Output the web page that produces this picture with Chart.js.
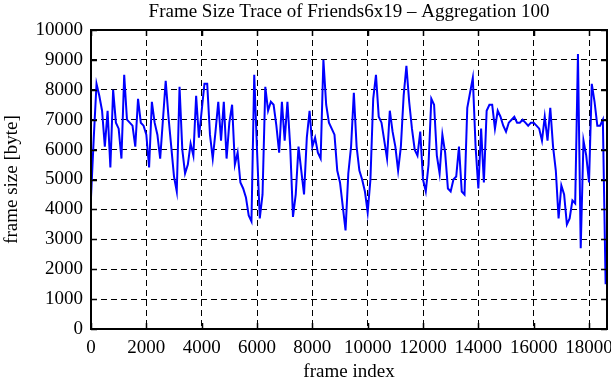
<!DOCTYPE html>
<html>
<head>
<meta charset="utf-8">
<script src="https://cdn.jsdelivr.net/npm/chart.js@4"></script>
<style>
html,body{margin:0;padding:0;background:#fff;}
canvas{display:block;}
</style>
</head>
<body>
<canvas id="c" width="611" height="380"></canvas>
<script>
const chartTitle = "Frame Size Trace of Friends6x19 \u2013 Aggregation 100";
const xAxisTitle = "frame index";
const yAxisTitle = "frame size [byte]";
const aggregationStep = 100;
const xTicks = [0,2000,4000,6000,8000,10000,12000,14000,16000,18000];
const yTicks = [0,1000,2000,3000,4000,5000,6000,7000,8000,9000,10000];
const xMax = 18650;
const yMax = 10000;
const frameSizes = [
4400,6400,8200,7800,7300,6100,7300,5400,8000,6900,
6700,5700,8500,7000,6900,6800,6100,7700,6900,6800,
6500,5400,7600,6900,6500,5700,7000,8300,7100,6100,
5100,4600,8100,6000,5200,5500,6200,5800,7800,6400,
7300,8200,8200,6500,5700,6600,7600,6300,7600,5700,
6900,7500,5500,5900,4900,4700,4400,3800,3600,8500,
6000,3700,4500,8100,7300,7600,7500,6800,5900,7600,
6300,7600,6100,3750,4500,6100,5300,4500,6400,7300,
6100,6400,5900,5700,9000,7500,6900,6700,6500,5300,
4900,4100,3300,5200,6100,7900,6100,5300,5000,4600,
3900,5000,7700,8500,7100,6900,6300,5700,7300,6600,
6100,5300,6100,7800,8800,7600,6700,6000,5800,6600,
5000,4600,5500,7700,7500,5800,5200,6500,5900,4700,
4600,5000,5100,6100,4600,4500,7400,7900,8400,6100,
4700,6700,4900,7300,7500,7500,6700,7300,7100,6800,
6600,6900,7000,7100,6900,6900,7000,6900,6800,6900,
6900,6800,6700,6300,7100,6300,7400,6100,5300,3700,
4800,4500,3500,3700,4300,4200,9200,2700,6300,5800,
4900,8200,7600,6800,6800,7000,1500
];

const points = frameSizes.map((v, i) => ({x: i * aggregationStep, y: v}));
const serif = "'Liberation Serif', 'Times New Roman', serif";

const frameBox = {
  id: 'frameBox',
  afterDraw(chart) {
    const {ctx, chartArea: a, scales} = chart;
    ctx.save();
    ctx.strokeStyle = '#000';
    ctx.lineWidth = 1.5;
    ctx.setLineDash([]);
    ctx.beginPath();
    const tl = 6;
    xTicks.forEach(v => {
      const px = Math.round(scales.x.getPixelForValue(v)) + 0.5;
      ctx.moveTo(px, a.bottom); ctx.lineTo(px, a.bottom - tl);
      ctx.moveTo(px, a.top); ctx.lineTo(px, a.top + tl);
    });
    yTicks.forEach(v => {
      const py = Math.round(scales.y.getPixelForValue(v)) + 0.5;
      ctx.moveTo(a.left, py); ctx.lineTo(a.left + tl, py);
      ctx.moveTo(a.right, py); ctx.lineTo(a.right - tl, py);
    });
    ctx.stroke();
    ctx.lineWidth = 2;
    ctx.strokeRect(a.left, a.top, a.right - a.left, a.bottom - a.top);
    // title centred over the plot area
    ctx.fillStyle = '#000';
    ctx.font = "19px " + serif;
    ctx.textAlign = 'center';
    ctx.textBaseline = 'middle';
    ctx.fillText(chartTitle, (a.left + a.right) / 2, 12.5);
    ctx.restore();
  }
};

new Chart(document.getElementById('c'), {
  type: 'line',
  data: {
    datasets: [{
      data: points,
      borderColor: '#0000ff',
      borderWidth: 2,
      pointRadius: 0,
      tension: 0,
      fill: false
    }]
  },
  options: {
    responsive: false,
    animation: false,
    layout: {padding: {left: 0, right: 4, top: 30, bottom: 0}},
    plugins: {
      legend: {display: false},
      tooltip: {enabled: false},
      title: {display: false}
    },
    scales: {
      x: {
        type: 'linear',
        min: 0,
        max: xMax,
        afterBuildTicks(s) { s.ticks = xTicks.map(v => ({value: v})); },
        afterFit(s) { s.height = 51; s.paddingLeft = 0; s.paddingRight = 0; },
        ticks: {
          color: '#000',
          font: {family: serif, size: 19},
          padding: 8,
          maxRotation: 0,
          autoSkip: false,
          callback: v => String(v)
        },
        grid: {color: '#000', lineWidth: 1, drawTicks: false},
        border: {display: false, dash: [6, 4]},
        title: {
          display: true,
          text: xAxisTitle,
          color: '#000',
          font: {family: serif, size: 19, lineHeight: 0.85},
          padding: {top: 0, bottom: 0}
        }
      },
      y: {
        type: 'linear',
        min: 0,
        max: yMax,
        afterBuildTicks(s) { s.ticks = yTicks.map(v => ({value: v})); },
        afterFit(s) { s.width = 91; s.paddingTop = 0; s.paddingBottom = 0; },
        ticks: {
          color: '#000',
          font: {family: serif, size: 19},
          padding: 8,
          autoSkip: false,
          callback: v => String(v)
        },
        grid: {color: '#000', lineWidth: 1, drawTicks: false},
        border: {display: false, dash: [6, 4]},
        title: {
          display: true,
          text: yAxisTitle,
          color: '#000',
          font: {family: serif, size: 19, lineHeight: 1.2},
          padding: {top: 0.6, bottom: 0}
        }
      }
    }
  },
  plugins: [frameBox]
});
</script>
</body>
</html>
